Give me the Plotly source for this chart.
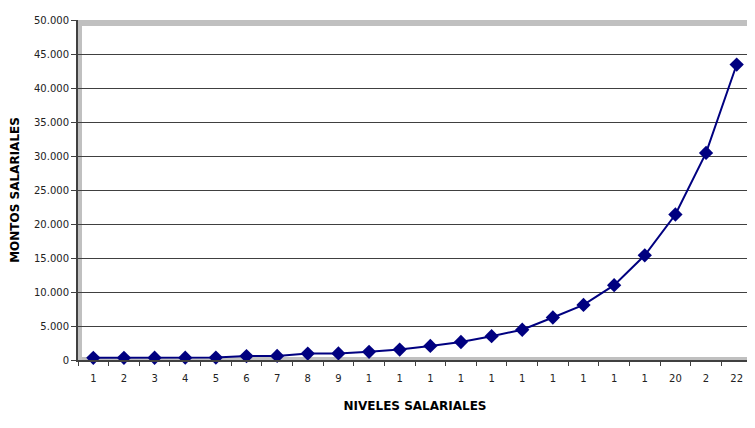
import plotly.graph_objects as go

niveles = list(range(1, 23))
etiquetas = ["1", "2", "3", "4", "5", "6", "7", "8", "9", "1", "1", "1", "1", "1",
             "1", "1", "1", "1", "1", "20", "2", "22"]
montos = [320, 320, 330, 340, 360, 580, 600, 950, 960, 1200, 1540, 2070, 2650,
          3500, 4450, 6250, 8100, 11000, 15400, 21400, 30450, 43450]
y_ticks = list(range(0, 50001, 5000))

W, H = 755, 428
OFF = 8  # page body margin offset
L, R, T, B = 78 - OFF, 11, 14 - OFF, 76
pw = W - L - R
ph = H - T - B

def px(x):
    return (x - OFF - L) / pw

def py(y):
    return (H - B - (y - OFF)) / ph

fig = go.Figure()
fig.add_trace(go.Scatter(
    x=niveles, y=montos, mode="lines+markers",
    line=dict(color="#000080", width=2),
    marker=dict(symbol="diamond", size=11, color="#000080"),
    cliponaxis=False, showlegend=False,
))

gray = "#C0C0C0"
# frame in screen pixels
frame = [
    (78, 14, 755, 20),    # top
    (78, 357, 755, 360),  # bottom
    (78, 14, 82, 360),    # left
    (750, 14, 755, 360),  # right
]
shapes = []
for x0, y0, x1, y1 in frame:
    shapes.append(dict(type="rect", xref="paper", yref="paper",
                       x0=px(x0), x1=px(x1), y0=py(y1), y1=py(y0),
                       fillcolor=gray, line=dict(width=0), layer="between"))

fig.update_layout(
    width=W, height=H,
    margin=dict(l=L, r=R, t=T, b=B),
    paper_bgcolor="white", plot_bgcolor="white",
    separators=",.",
    font=dict(family="DejaVu Sans", size=10, color="#222222"),
    shapes=shapes,
    xaxis=dict(
        range=[0.5, 22.5], tickmode="array", tickvals=niveles, ticktext=etiquetas,
        ticks="", showgrid=False, zeroline=False,
        showline=True, linecolor="#404040", linewidth=2,
        tickfont=dict(size=10, color="#222222"),
        ticklabelstandoff=8,
        minor=dict(tickmode="array", tickvals=[n + 0.5 for n in range(0, 23)],
                   ticks="outside", ticklen=4, tickcolor="#404040", tickwidth=1,
                   showgrid=False),
        title=dict(text="<b>NIVELES SALARIALES</b>", font=dict(size=12, color="#000000"),
                   standoff=19),
    ),
    yaxis=dict(
        range=[0, 50000], tickmode="array", tickvals=y_ticks, tickformat=",d",
        ticks="outside", ticklen=5, tickcolor="#404040", tickwidth=1,
        showgrid=True, gridcolor="#404040", gridwidth=1, zeroline=False,
        showline=True, linecolor="#404040", linewidth=2,
        tickfont=dict(size=10, color="#222222"),
        title=dict(text="<b>MONTOS SALARIALES</b>", font=dict(size=12, color="#000000"),
                   standoff=12),
    ),
)

fig.write_html("out.html")
